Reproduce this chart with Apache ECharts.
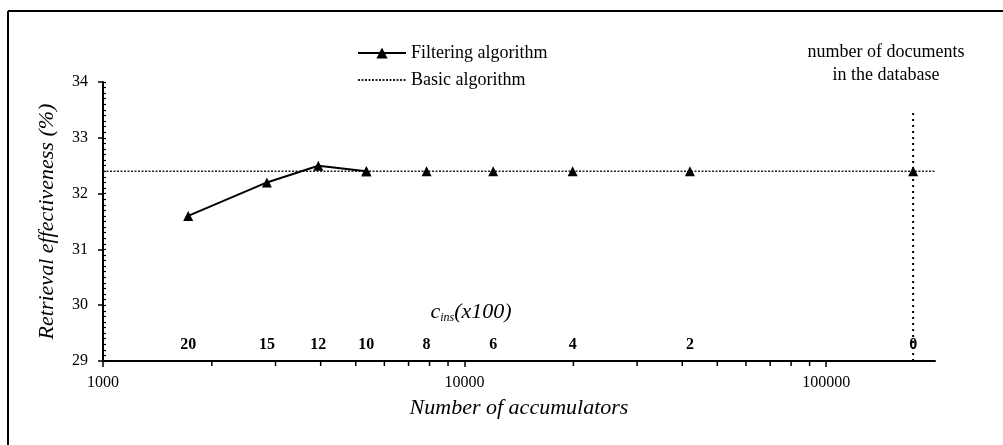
<!DOCTYPE html>
<html><head><meta charset="utf-8">
<script src="https://cdn.jsdelivr.net/npm/echarts@6/dist/echarts.min.js"></script>
<style>html,body{margin:0;padding:0;background:#fff}#c{width:1003px;height:445px}</style>
</head><body><div id="c"></div>
<script>
// ---- data ----
const accumulators = [1720, 2840, 3940, 5350, 7850, 12000, 19900, 42000, 174000];
const filtering = [31.6, 32.2, 32.5, 32.4, 32.4, 32.4, 32.4, 32.4, 32.4];
const cinsLabels = ['20', '15', '12', '10', '8', '6', '4', '2', '0'];
const basicX = [1000, 200000];
const basicY = [32.4, 32.4];
const dbSize = 174000;
const dbLineY = [29, 33.45];
const xMinorTicks = [2000, 3000, 4000, 5000, 6000, 7000, 8000, 9000,
  20000, 30000, 40000, 50000, 60000, 70000, 80000, 90000];
const yMin = 29, yMax = 34, yStep = 1;
const xMin = 1000, xMax = 200000;
// index of last point drawn with a visible solid segment (rest coincide with basic line)
const solidUntil = 3;

const FONT = 'Liberation Serif';
const chart = echarts.init(document.getElementById('c'));
const pts = accumulators.map((x, i) => [x, filtering[i]]);

const option = {
  animation: false,
  backgroundColor: '#fff',
  grid: { left: 103, right: 68, top: 82, bottom: 84, containLabel: false },
  legend: {
    data: ['Filtering algorithm', { name: 'Basic algorithm', itemStyle: { opacity: 0 } }],
    orient: 'vertical', left: 357, top: 44, padding: 0,
    itemWidth: 48, itemHeight: 14, itemGap: 9,
    textStyle: { fontFamily: FONT, fontSize: 18, color: '#000' }
  },
  xAxis: {
    type: 'log', logBase: 10, min: xMin, max: xMax,
    name: 'Number of accumulators', nameLocation: 'middle', nameGap: 36,
    nameTextStyle: { fontFamily: FONT, fontSize: 22, fontStyle: 'italic', color: '#000' },
    axisLine: { show: true, lineStyle: { color: '#000', width: 2 } },
    axisTick: { show: true, length: 6, lineStyle: { color: '#000', width: 1.5 } },
    axisLabel: {
      fontFamily: FONT, fontSize: 16, color: '#000', margin: 14,
      showMaxLabel: false,
      formatter: function (v) {
        const l = Math.log10(v);
        return Math.abs(l - Math.round(l)) < 1e-6 ? String(Math.round(v)) : '';
      }
    },
    splitLine: { show: false }
  },
  yAxis: [{
    type: 'value', min: yMin, max: yMax, interval: yStep,
    name: 'Retrieval effectiveness (%)', nameLocation: 'middle', nameGap: 45,
    nameTextStyle: { fontFamily: FONT, fontSize: 22, fontStyle: 'italic', color: '#000' },
    axisLine: { show: true, lineStyle: { color: '#000', width: 2 } },
    axisTick: { show: true, length: 5, lineStyle: { color: '#000', width: 1.5 } },
    axisLabel: { fontFamily: FONT, fontSize: 16, color: '#000', margin: 15 },
    splitLine: { show: false }
  }, {
    type: 'value', min: yMin, max: yMax, interval: yStep, position: 'left',
    axisLine: { show: false },
    axisTick: { show: true, inside: true, length: 3, lineStyle: { color: '#000', width: 1.2 } },
    minorTick: { show: true, splitNumber: 10, length: 3, lineStyle: { color: '#000', width: 1.2 } },
    axisLabel: { show: false },
    splitLine: { show: false }
  }],
  series: [
    {
      name: 'Filtering algorithm', type: 'line',
      data: pts.slice(0, solidUntil + 1),
      color: '#000', symbol: 'triangle', symbolSize: 10, showAllSymbol: true,
      lineStyle: { color: '#000', width: 2 }, itemStyle: { color: '#000' }, z: 4
    },
    {
      name: 'Filtering algorithm', type: 'line',
      data: pts.slice(solidUntil),
      color: '#000', symbol: 'triangle', symbolSize: 10, showAllSymbol: true,
      lineStyle: { color: '#000', width: 0, opacity: 0 }, itemStyle: { color: '#000' }, z: 4
    },
    {
      name: 'Basic algorithm', type: 'line',
      data: basicX.map((x, i) => [x, basicY[i]]),
      color: '#222', symbol: 'none', showSymbol: false,
      lineStyle: { color: '#222', width: 1.6, type: [2, 1.5] }, z: 3
    },
    {
      name: 'db', type: 'line',
      data: dbLineY.map(y => [dbSize, y]),
      symbol: 'none', showSymbol: false, silent: true,
      lineStyle: { color: '#000', width: 2, type: [2, 4] }, z: 2
    },
    {
      name: 'cins', type: 'scatter', clip: false, silent: true,
      data: accumulators.map(x => [x, yMin]),
      symbolSize: 0, itemStyle: { opacity: 1, color: '#000' },
      label: {
        show: true, position: 'top', distance: 8, opacity: 1,
        formatter: p => cinsLabels[p.dataIndex],
        fontFamily: FONT, fontSize: 16, fontWeight: 'bold', color: '#000'
      }
    },
    {
      name: 'minorTicks', type: 'scatter', clip: false, silent: true,
      data: xMinorTicks.map(x => [x, yMin]),
      symbol: 'rect', symbolSize: [1.5, 4], symbolOffset: [0, 3],
      itemStyle: { color: '#000', opacity: 1 }, z: 5
    }
  ],
  graphic: [
    { type: 'line', shape: { x1: 8, y1: 11, x2: 1003, y2: 11 }, style: { stroke: '#000', lineWidth: 2 } },
    { type: 'line', shape: { x1: 8, y1: 11, x2: 8, y2: 445 }, style: { stroke: '#000', lineWidth: 2 } },
    {
      type: 'text', x: 886, y: 64,
      style: {
        text: 'number of documents\nin the database',
        fontFamily: FONT, fontSize: 18, fill: '#000', lineHeight: 23,
        align: 'center', verticalAlign: 'middle'
      }
    },
    {
      type: 'text', x: 471, y: 312,
      style: {
        text: '{c|c}{s|ins}{p|(x100)}',
        align: 'center', verticalAlign: 'middle', fill: '#000',
        rich: {
          c: { fontFamily: FONT, fontSize: 22, fontStyle: 'italic', lineHeight: 24, fill: '#000' },
          s: { fontFamily: FONT, fontSize: 12, fontStyle: 'italic', lineHeight: 10, verticalAlign: 'bottom', fill: '#000' },
          p: { fontFamily: FONT, fontSize: 22, fontStyle: 'italic', lineHeight: 24, fill: '#000' }
        }
      }
    }
  ]
};
chart.setOption(option);
</script>
</body></html>
